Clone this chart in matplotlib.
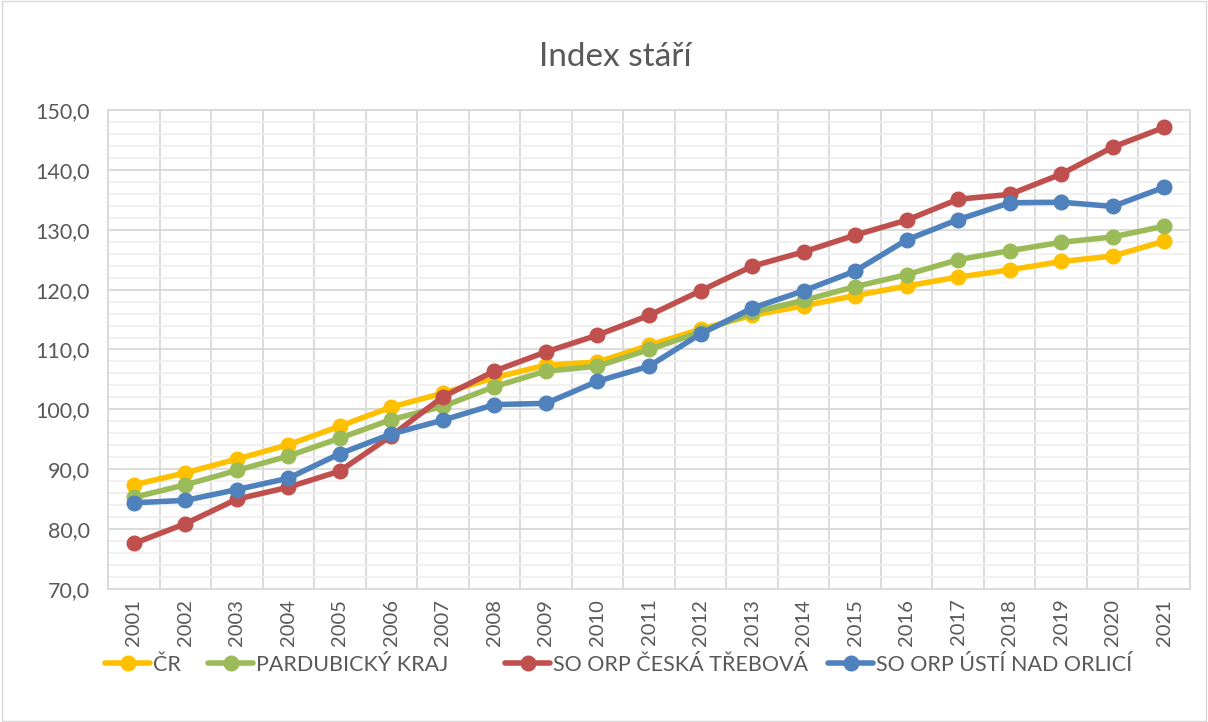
import numpy as np
import matplotlib.pyplot as plt
from matplotlib.ticker import FuncFormatter, MultipleLocator
from matplotlib.patches import Rectangle

plt.rcParams['font.family'] = ['Lato', 'DejaVu Sans']

years = [str(y) for y in range(2001, 2022)]
cr = [87.4, 89.4, 91.7, 94.1, 97.2, 100.4, 102.7, 105.3, 107.4, 107.9, 110.7,
      113.4, 115.7, 117.3, 119.0, 120.6, 122.1, 123.3, 124.7, 125.6, 128.1]
pardubicky = [85.3, 87.4, 89.8, 92.2, 95.2, 98.3, 100.5, 103.8, 106.4, 107.2, 110.0,
              112.9, 116.2, 118.2, 120.5, 122.5, 125.0, 126.5, 127.9, 128.8, 130.6]
ceska_trebova = [77.6, 80.9, 85.0, 87.0, 89.7, 95.6, 102.1, 106.4, 109.6, 112.4, 115.7,
                 119.8, 123.9, 126.3, 129.1, 131.6, 135.1, 135.9, 139.3, 143.8, 147.1]
usti = [84.4, 84.8, 86.6, 88.5, 92.6, 95.9, 98.2, 100.8, 101.0, 104.7, 107.2,
        112.6, 116.9, 119.8, 123.1, 128.3, 131.7, 134.5, 134.6, 133.9, 137.1]

series = [("ČR", cr, "#FFC000"),
          ("PARDUBICKÝ KRAJ", pardubicky, "#9BBB59"),
          ("SO ORP ČESKÁ TŘEBOVÁ", ceska_trebova, "#C0504D"),
          ("SO ORP ÚSTÍ NAD ORLICÍ", usti, "#4F81BD")]

W, H = 1208, 722
fig = plt.figure(figsize=(W / 100, H / 100), dpi=100)
ax = fig.add_axes([108 / W, 1 - 589 / H, (1190 - 108) / W, (589 - 110) / H])

x = np.arange(len(years))
for label, vals, col in series:
    ax.plot(x, vals, color=col, lw=4, marker="o", ms=10.5, label=label,
            solid_capstyle="round", zorder=3)

ax.set_xlim(-0.5, len(years) - 0.5)
ax.set_ylim(70, 150)
ax.yaxis.set_major_locator(MultipleLocator(10))
ax.yaxis.set_minor_locator(MultipleLocator(2))
ax.yaxis.set_major_formatter(FuncFormatter(lambda v, p: f"{v:.1f}".replace(".", ",")))
ax.set_xticks(x)
ax.set_xticklabels(years, rotation=90)
ax.set_xticks(np.arange(len(years) + 1) - 0.5, minor=True)

ax.grid(which="major", axis="y", color="#d9d9d9", lw=1.3)
ax.grid(which="minor", axis="y", color="#f0f0f0", lw=1.3)
ax.grid(which="minor", axis="x", color="#d9d9d9", lw=1.3)
ax.set_axisbelow(True)

for s in ax.spines.values():
    s.set_color("#d9d9d9")
    s.set_linewidth(1.3)
ax.tick_params(which="both", length=0, colors="#595959")
ax.tick_params(axis="y", pad=13, labelsize=15.5)
ax.tick_params(axis="x", pad=7, labelsize=14.5)

fig.text(615 / W, 1 - 57 / H, "Index stáří", ha="center", va="center", fontsize=24, color="#595959")

# legend entries placed like in the original (uneven spacing)
handles, labels = ax.get_legend_handles_labels()
leg_x = [105, 208, 505, 828]
for h, l, lx in zip(handles, labels, leg_x):
    lg = fig.legend([h], [l], loc="center left", bbox_to_anchor=(lx / W, 1 - 665 / H),
                    frameon=False, fontsize=15.5, labelcolor="#595959", handlelength=2.1,
                    handletextpad=0.15, borderpad=0, borderaxespad=0)

fig.patches.append(Rectangle((0.002, 0.002), 0.996, 0.996, transform=fig.transFigure,
                             fill=False, edgecolor="#d9d9d9", lw=1))

fig.savefig("out.png", dpi=100)
